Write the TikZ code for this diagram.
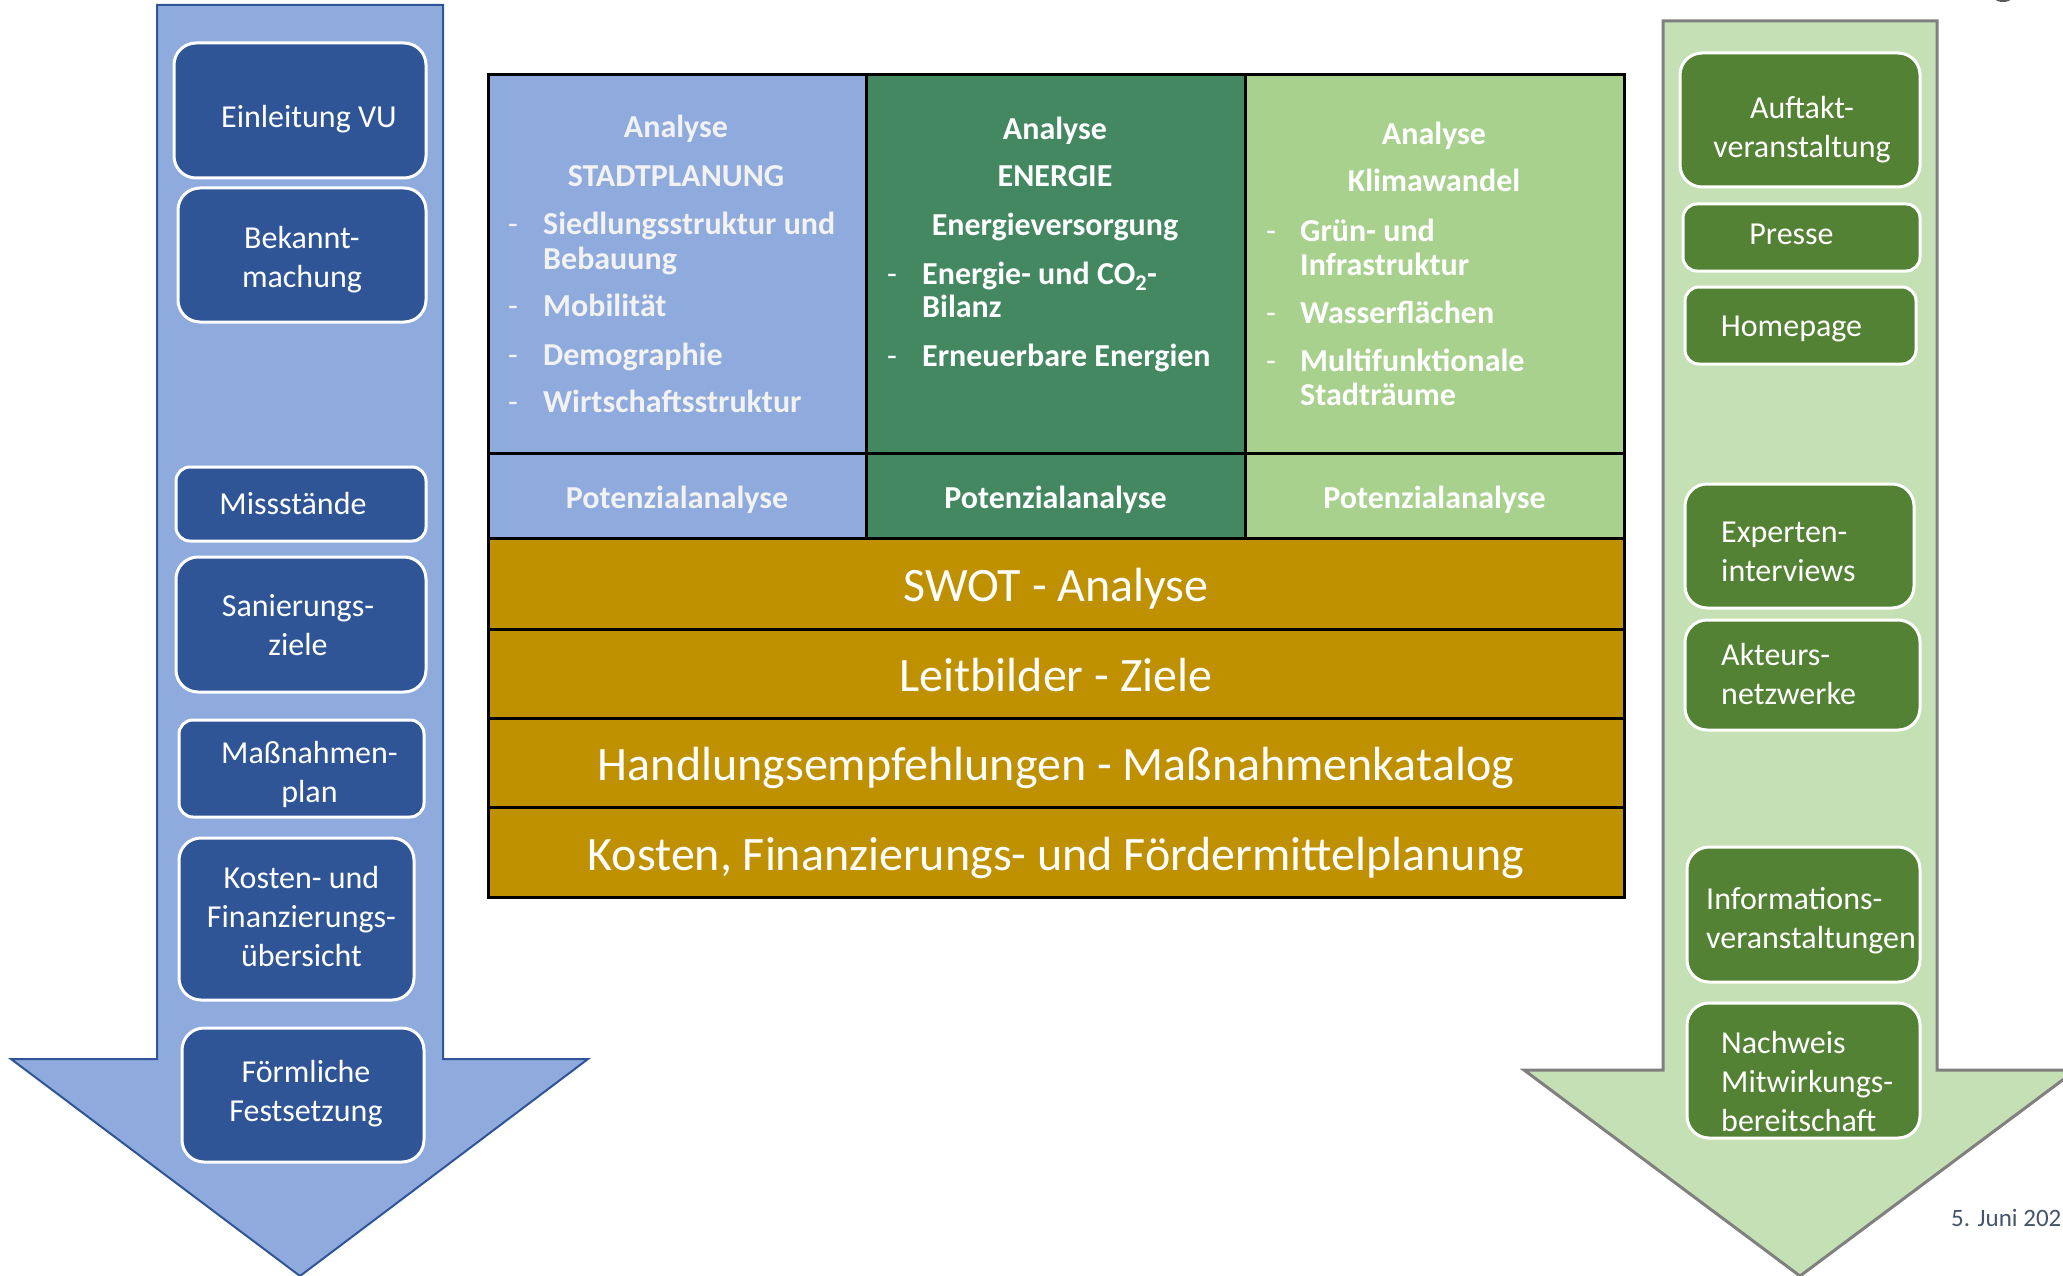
\documentclass[tikz,border=0pt]{standalone}
\usepackage{fontspec}
\setmainfont{Carlito}
\newcommand\myfs{\fontsize{32}{39}\selectfont}
\newcommand\mybig{\fontsize{48}{57}\selectfont}
\newcommand\mydate{\fontsize{25}{30}\selectfont}
\definecolor{lblue}{HTML}{8FAADC}
\definecolor{dblue}{HTML}{2F5597}
\definecolor{mgreen}{HTML}{448862}
\definecolor{lgreen}{HTML}{A9D18E}
\definecolor{pgreen}{HTML}{C5E0B4}
\definecolor{dgreen}{HTML}{548235}
\definecolor{gold}{HTML}{BF9000}
\definecolor{dategray}{HTML}{44546A}
\definecolor{offwhite}{HTML}{F2F2F2}
\begin{document}
\begin{tikzpicture}[x=1pt,y=-1pt,
  lbox/.style={draw=white, line width=3pt, fill=dblue, rounded corners=22pt, inner sep=0pt},
  lboxs/.style={lbox, rounded corners=14pt},
  rbox/.style={draw=white, line width=3pt, fill=dgreen, rounded corners=22pt, inner sep=0pt},
  rboxs/.style={rbox, rounded corners=14pt},
  btxt/.style={align=center, text=white, font=\myfs, inner sep=0pt},
  rtxt/.style={anchor=west, align=left, text=white, font=\myfs, inner sep=0pt},
  cell/.style={draw=black, line width=3pt, inner sep=0pt},
  band/.style={draw=black, line width=3pt, fill=gold, text=white, font=\mybig, inner sep=0pt, minimum width=1136, text height=42, text depth=6},
  ttl/.style={anchor=base, font=\bfseries\myfs, inner sep=0pt},
  item/.style={anchor=base west, font=\bfseries\myfs, inner sep=0pt},
  dsh/.style={anchor=base west, font=\myfs, inner sep=0pt}
]
\useasboundingbox (0,0) rectangle (2063,1276);

% top-right fragment
\fill[gray!70!black] (2003,-10) ellipse [x radius=14, y radius=12];

% left arrow
\draw[fill=lblue, draw=dblue, line width=2pt, line join=miter]
  (157,5) -- (443,5) -- (443,1059) -- (588,1059) -- (300,1276) -- (11,1059) -- (157,1059) -- cycle;
% right arrow
\draw[fill=pgreen, draw=gray, line width=3pt, line join=miter]
  (1663,21) -- (1937,21) -- (1937,1070) -- (2076,1070) -- (1800,1276) -- (1524,1070) -- (1663,1070) -- cycle;

% left boxes
\node[lbox, minimum width=252, minimum height=135] (l1) at (300,110.5) {};
\node[btxt] (l1t) at ([shift={(9,9)}]l1.center) {Einleitung VU};
\node[lbox, minimum width=248, minimum height=134] (l2) at (302,255) {};
\node[btxt] (l2t) at ([shift={(0,5)}]l2.center) {Bekannt-\\machung};
\node[lboxs, minimum width=250, minimum height=74] (l3) at (301,504) {};
\node[btxt] (l3t) at ([shift={(-8,0)}]l3.center) {Missstände};
\node[lbox, minimum width=250, minimum height=135] (l4) at (301,624.5) {};
\node[btxt] (l4t) at ([shift={(-3,1)}]l4.center) {Sanierungs-\\ziele};
\node[lboxs, minimum width=245, minimum height=97] (l5) at (301.5,768.5) {};
\node[btxt] (l5t) at ([shift={(8,6)}]l5.center) {Maßnahmen-\\plan};
\node[lbox, minimum width=235, minimum height=162] (l6) at (296.5,919) {};
\node[btxt] (l6t) at ([shift={(5,-3)}]l6.center) {Kosten- und\\Finanzierungs-\\übersicht};
\node[lbox, minimum width=242, minimum height=134] (l7) at (303,1095) {};
\node[btxt] (l7t) at ([shift={(3,-1)}]l7.center) {Förmliche\\Festsetzung};

% right boxes
\node[rbox, minimum width=240, minimum height=134] (r1) at (1800,120) {};
\node[btxt] (r1t) at ([shift={(2,10)}]r1.center) {Auftakt-\\veranstaltung};
\node[rboxs, minimum width=237, minimum height=67] (r2) at (1801.5,237.5) {};
\node[btxt] (r2t) at ([shift={(-10,-3)}]r2.center) {Presse};
\node[rboxs, minimum width=231, minimum height=77] (r3) at (1800.5,325.5) {};
\node[btxt] (r3t) at ([shift={(-9,3)}]r3.center) {Homepage};
\node[rbox, minimum width=229, minimum height=124] (r4) at (1799.5,546) {};
\node[rtxt] (r4t) at (1721,552) {Experten-\\interviews};
\node[rbox, minimum width=235, minimum height=110] (r5) at (1802.5,675) {};
\node[rtxt] (r5t) at (1721,674) {Akteurs-\\netzwerke};
\node[rbox, minimum width=233, minimum height=135] (r6) at (1803.5,914.5) {};
\node[rtxt] (r6t) at (1706,921) {Informations-\\veranstaltungen};
\node[rbox, minimum width=233, minimum height=135] (r7) at (1803.5,1070.5) {};
\node[rtxt] (r7t) at (1721,1081) {Nachweis\\Mitwirkungs-\\bereitschaft};

% middle table: columns
\node[cell, fill=lblue, minimum width=378, minimum height=378] (c1) at (677,264) {};
\node[cell, fill=mgreen, minimum width=379, minimum height=378] (c2) at (1055.5,264) {};
\node[cell, fill=lgreen, minimum width=379, minimum height=378] (c3) at (1434.5,264) {};
\node[cell, fill=lblue, minimum width=378, minimum height=85] (p1) at (677,495.5) {};
\node[cell, fill=mgreen, minimum width=379, minimum height=85] (p2) at (1055.5,495.5) {};
\node[cell, fill=lgreen, minimum width=379, minimum height=85] (p3) at (1434.5,495.5) {};

% bands
\node[band, minimum height=91] (b1) at (1056,583.5) {SWOT - Analyse};
\node[band, minimum height=89] (b2) at (1056,673.5) {Leitbilder - Ziele};
\node[band, minimum height=89] (b3) at (1056,762.5) {Handlungsempfehlungen - Maßnahmenkatalog};
\node[band, minimum height=90] (b4) at (1056,852) {Kosten, Finanzierungs- und Fördermittelplanung};

% column 1 text
\begin{scope}[text=offwhite]
\node[ttl] (t11) at (676,138) {Analyse};
\node[ttl] (t12) at (676,186) {STADTPLANUNG};
\node[dsh] (d11) at (508,234) {-};
\node[item] (i11) at (543,234) {Siedlungsstruktur und};
\node[item] (i12) at (543,269) {Bebauung};
\node[dsh] (d12) at (508,316) {-};
\node[item] (i13) at (543,316) {Mobilität};
\node[dsh] (d13) at (508,365) {-};
\node[item] (i14) at (543,365) {Demographie};
\node[dsh] (d14) at (508,412) {-};
\node[item] (i15) at (543,412) {Wirtschaftsstruktur};
\node[ttl] (pt1) at (677,508) {Potenzialanalyse};
\end{scope}

% column 2 text
\begin{scope}[text=white]
\node[ttl] (t21) at (1055,140) {Analyse};
\node[ttl] (t22) at (1055,187) {ENERGIE};
\node[ttl] (t23) at (1055,236) {Energieversorgung};
\node[dsh] (d21) at (887,284) {-};
\node[item] (i21) at (922,284) {Energie- und CO\textsubscript{2}-};
\node[item] (i22) at (922,317) {Bilanz};
\node[dsh] (d22) at (887,366) {-};
\node[item] (i23) at (922,366) {Erneuerbare Energien};
\node[ttl] (pt2) at (1055.5,508) {Potenzialanalyse};
\end{scope}

% column 3 text
\begin{scope}[text=white]
\node[ttl] (t31) at (1434,145) {Analyse};
\node[ttl] (t32) at (1434,192) {Klimawandel};
\node[dsh] (d31) at (1266,241) {-};
\node[item] (i31) at (1300,241) {Grün- und};
\node[item] (i32) at (1300,275) {Infrastruktur};
\node[dsh] (d32) at (1266,323) {-};
\node[item] (i33) at (1300,323) {Wasserflächen};
\node[dsh] (d33) at (1266,371) {-};
\node[item] (i34) at (1300,371) {Multifunktionale};
\node[item] (i35) at (1300,405) {Stadträume};
\node[ttl] (pt3) at (1434.5,508) {Potenzialanalyse};
\end{scope}

% date
\node[anchor=base west, inner sep=0pt, text=dategray, font=\mydate] (date) at (1951,1226) {5. Juni 202};
\end{tikzpicture}
\end{document}
